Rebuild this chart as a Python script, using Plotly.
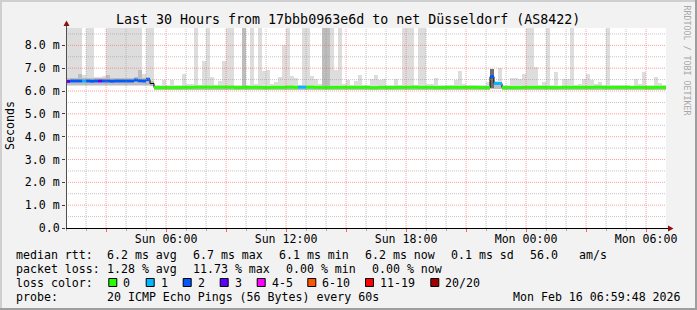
import pandas as pd
import plotly.graph_objects as go

# ---------------- data ----------------
START = "2026-02-15 00:59:48"
END = "2026-02-16 06:59:48"
STEP_MINUTES = 12
T = 9.5  # smoke that runs off the top of the chart (ms)

# top of the light smoke per 12-minute column (ms)
smoke_max = [
    T, T, T, T, 6.70, T, T, 6.60, 6.62, 6.65,
    T, T, T, T, T, T, T, T, T, 6.75,
    T, T, 6.25, 6.25, 6.47, 6.25, 6.47, 6.28, 6.28, 6.73,
    6.32, 6.32, T, 6.25, 7.30, T, 6.61, 6.25, 6.42, 7.30,
    T, T, 6.28, 6.25, T, 6.28, T, 6.32, T, 6.86,
    6.94, 6.32, 6.40, 6.61, 8.00, T, 6.65, 6.58, 6.28, T,
    T, 6.66, 6.51, 6.32, T, T, T, 6.90, T, 6.32,
    6.47, 6.25, 6.42, 6.72, 6.28, 6.28, 6.54, 6.68, 6.47, 6.51,
    6.28, 6.25, 6.51, 6.28, T, T, T, 6.25, T, T,
    6.32, 6.32, 6.57, 6.25, 6.25, 6.25, 6.28, 6.47, 6.87, 6.32,
    6.25, 6.25, 6.25, 6.28, 6.25, 6.40, 6.95, 6.45, 7.02, 6.25,
    6.25, 6.57, 6.57, 6.51, 6.73, T, T, 7.05, 6.28, 6.40,
    T, 6.25, 6.85, 6.22, 6.51, 6.51, T, 6.25, 6.30, 6.51,
    6.75, 6.47, 6.32, 6.38, 6.28, T, 6.28, 6.28, 6.28, 6.28,
    6.25, 6.22, 6.51, 6.32, 6.82, 6.28, 6.28, 6.61, 6.35, 6.28,
]
# bottom of the light smoke (ms)
smoke_min = [
    6.22, 6.22, 6.22, 6.22, 6.22, 6.22, 6.22, 6.22, 6.22, 6.22,
    6.22, 6.22, 6.22, 6.22, 6.22, 6.22, 6.22, 6.22, 6.22, 6.22,
    6.22, 6.20, 6.03, 6.03, 6.03, 6.03, 6.03, 6.03, 6.03, 6.03,
    6.03, 6.03, 6.03, 6.03, 6.03, 6.03, 6.03, 6.03, 6.03, 6.03,
    6.03, 6.03, 6.03, 6.03, 6.03, 6.03, 6.03, 6.03, 6.03, 6.03,
    6.03, 6.03, 6.03, 6.03, 6.03, 6.03, 6.03, 6.03, 6.03, 6.03,
    6.03, 6.03, 6.03, 6.03, 6.03, 6.03, 6.03, 6.03, 6.03, 6.03,
    6.03, 6.03, 6.03, 6.03, 6.03, 6.03, 6.03, 6.03, 6.03, 6.03,
    6.03, 6.03, 6.03, 6.03, 6.03, 6.03, 6.03, 6.03, 6.03, 6.03,
    6.03, 6.03, 6.03, 6.03, 6.03, 6.03, 6.03, 6.03, 6.03, 6.03,
    6.03, 6.03, 6.03, 6.03, 6.03, 6.03, 6.10, 6.10, 6.10, 6.03,
    6.03, 6.03, 6.03, 6.03, 6.03, 6.03, 6.03, 6.03, 6.03, 6.03,
    6.03, 6.03, 6.03, 6.03, 6.03, 6.03, 6.03, 6.03, 6.03, 6.03,
    6.03, 6.03, 6.03, 6.03, 6.03, 6.03, 6.03, 6.03, 6.03, 6.03,
    6.03, 6.03, 6.03, 6.03, 6.03, 6.03, 6.03, 6.03, 6.03, 6.03,
]
# denser smoke band around the median (ms)
mid_lo = [
    6.28, 6.28, 6.28, 6.28, 6.28, 6.28, 6.28, 6.28, 6.28, 6.28,
    6.28, 6.28, 6.28, 6.28, 6.28, 6.28, 6.28, 6.28, 6.28, 6.28,
    6.28, 6.24, 6.06, 6.06, 6.06, 6.06, 6.06, 6.06, 6.06, 6.06,
    6.06, 6.06, 6.06, 6.06, 6.06, 6.06, 6.06, 6.06, 6.06, 6.06,
    6.06, 6.06, 6.06, 6.06, 6.06, 6.06, 6.06, 6.06, 6.06, 6.06,
    6.06, 6.06, 6.06, 6.06, 6.06, 6.06, 6.06, 6.06, 6.06, 6.06,
    6.06, 6.06, 6.06, 6.06, 6.06, 6.06, 6.06, 6.06, 6.06, 6.06,
    6.06, 6.06, 6.06, 6.06, 6.06, 6.06, 6.06, 6.06, 6.06, 6.06,
    6.06, 6.06, 6.06, 6.06, 6.06, 6.06, 6.06, 6.06, 6.06, 6.06,
    6.06, 6.06, 6.06, 6.06, 6.06, 6.06, 6.06, 6.06, 6.06, 6.06,
    6.06, 6.06, 6.06, 6.06, 6.06, 6.06, 6.10, 6.10, 6.10, 6.06,
    6.06, 6.06, 6.06, 6.06, 6.06, 6.06, 6.06, 6.06, 6.06, 6.06,
    6.06, 6.06, 6.06, 6.06, 6.06, 6.06, 6.06, 6.06, 6.06, 6.06,
    6.06, 6.06, 6.06, 6.06, 6.06, 6.06, 6.06, 6.06, 6.06, 6.06,
    6.06, 6.06, 6.06, 6.06, 6.06, 6.06, 6.06, 6.06, 6.06, 6.06,
]
mid_hi = [
    6.56, 6.56, 6.56, 6.75, 6.56, 6.56, 6.56, 6.56, 6.56, 6.56,
    6.72, 6.56, 6.56, 6.56, 6.56, 6.56, 6.56, 6.60, 6.90, 6.56,
    6.60, 6.45, 6.22, 6.22, 6.22, 6.22, 6.22, 6.22, 6.22, 6.22,
    6.22, 6.22, 6.22, 6.22, 6.22, 6.22, 6.22, 6.22, 6.22, 6.22,
    6.22, 6.22, 6.22, 6.22, T, 6.22, 6.22, 6.22, 6.22, 6.22,
    6.22, 6.22, 6.22, 6.22, 6.22, 6.22, 6.22, 6.22, 6.22, 6.22,
    6.22, 6.22, 6.22, 6.22, T, T, 6.22, 6.22, 6.22, 6.22,
    6.22, 6.22, 6.22, 6.22, 6.22, 6.22, 6.22, 6.22, 6.22, 6.22,
    6.22, 6.22, 6.22, 6.22, 6.22, 6.22, 6.22, 6.22, 6.22, 6.22,
    6.22, 6.22, 6.22, 6.22, 6.22, 6.22, 6.22, 6.22, 6.22, 6.22,
    6.22, 6.22, 6.22, 6.22, 6.22, 6.22, 6.12, 6.30, 6.30, 6.22,
    6.22, 6.22, 6.22, 6.22, 6.22, 6.22, 6.22, 6.22, 6.22, 6.22,
    6.22, 6.22, 6.22, 6.22, 6.22, 6.22, 6.22, 6.22, 6.22, 6.22,
    6.22, 6.22, 6.22, 6.22, 6.22, 6.22, 6.22, 6.22, 6.22, 6.22,
    6.22, 6.22, 6.22, 6.22, 6.22, 6.22, 6.22, 6.22, 6.22, 6.22,
]
# the one burst column with widely spread pings
burst_cols = [106]
burst_lo = [6.12]
burst_hi = [6.95]

# median rtt (ms)
median = [
    6.42, 6.44, 6.44, 6.44, 6.44, 6.44, 6.43, 6.44, 6.44, 6.44,
    6.44, 6.43, 6.44, 6.44, 6.44, 6.44, 6.44, 6.48, 6.45, 6.44,
    6.50, 6.33, 6.15, 6.15, 6.15, 6.15, 6.15, 6.15, 6.15, 6.16,
    6.16, 6.16, 6.17, 6.17, 6.17, 6.17, 6.17, 6.17, 6.17, 6.17,
    6.17, 6.17, 6.15, 6.15, 6.16, 6.16, 6.16, 6.16, 6.16, 6.15,
    6.15, 6.16, 6.16, 6.16, 6.16, 6.17, 6.17, 6.16, 6.17, 6.17,
    6.17, 6.17, 6.16, 6.16, 6.15, 6.15, 6.16, 6.16, 6.16, 6.16,
    6.16, 6.16, 6.16, 6.16, 6.16, 6.16, 6.14, 6.14, 6.16, 6.16,
    6.15, 6.15, 6.16, 6.16, 6.16, 6.16, 6.17, 6.17, 6.16, 6.16,
    6.16, 6.16, 6.15, 6.15, 6.15, 6.16, 6.16, 6.16, 6.16, 6.16,
    6.16, 6.16, 6.16, 6.15, 6.15, 6.15, 6.63, 6.33, 6.33, 6.15,
    6.15, 6.15, 6.15, 6.15, 6.16, 6.16, 6.16, 6.16, 6.16, 6.16,
    6.16, 6.15, 6.15, 6.16, 6.16, 6.16, 6.16, 6.16, 6.16, 6.16,
    6.16, 6.16, 6.17, 6.17, 6.16, 6.16, 6.16, 6.16, 6.16, 6.16,
    6.16, 6.16, 6.16, 6.16, 6.16, 6.15, 6.15, 6.16, 6.16, 6.16,
]
# lost pings (of 20) per column; -1 = not coloured
loss = [
    3, 2, 2, 2, 1, 2, 2, 2, 3, 2,
    2, 2, 2, 2, 2, 2, 2, 2, 2, 2,
    2, -1, 0, 0, 0, 0, 0, 0, 0, 0,
    0, 0, 0, 0, 0, 0, 0, 0, 0, 0,
    0, 0, 0, 0, 0, 0, 0, 0, 0, 0,
    0, 0, 0, 0, 0, 0, 0, 0, 1, 1,
    0, 0, 0, 0, 0, 0, 0, 0, 0, 0,
    0, 0, 0, 0, 0, 0, 0, 0, 0, 0,
    0, 0, 0, 0, 0, 0, 0, 0, 0, 0,
    0, 0, 0, 0, 0, 0, 0, 0, 0, 0,
    0, 0, 0, 0, 0, 0, 2, 1, 1, 0,
    0, 0, 0, 0, 0, 0, 0, 0, 0, 0,
    0, 0, 0, 0, 0, 0, 0, 0, 0, 0,
    0, 0, 0, 0, 0, 0, 0, 0, 0, 0,
    0, 0, 0, 0, 0, 0, 0, 0, 0, 0,
]

loss_labels = ["0", "1", "2", "3", "4-5", "6-10", "11-19", "20/20"]
loss_colors = ["#26ff00", "#00b8ff", "#0059ff", "#5e00ff", "#ff00ff", "#ff5500", "#ff0000", "#a10000"]
loss_upper = [0, 1, 2, 3, 5, 10, 19, 20]

y_tick_vals = [0, 1, 2, 3, 4, 5, 6, 7, 8]
y_tick_text = ["0.0", "1.0 m", "2.0 m", "3.0 m", "4.0 m", "5.0 m", "6.0 m", "7.0 m", "8.0 m"]
x_major = ["2026-02-15 03:00", "2026-02-15 06:00", "2026-02-15 09:00", "2026-02-15 12:00",
           "2026-02-15 15:00", "2026-02-15 18:00", "2026-02-15 21:00", "2026-02-16 00:00",
           "2026-02-16 03:00", "2026-02-16 06:00"]
x_major_text = ["", "Sun 06:00", "", "Sun 12:00", "", "Sun 18:00", "", "Mon 00:00", "", "Mon 06:00"]
Y_TOP = 8.76

title = "Last 30 Hours from 17bbb0963e6d to net Düsseldorf (AS8422)"
stats_rtt = ["median rtt:", "6.2 ms avg", "6.7 ms max", "6.1 ms min", "6.2 ms now", "0.1 ms sd", "56.0", "am/s"]
stats_loss = ["packet loss:", "1.28 % avg", "11.73 % max", "0.00 % min", "0.00 % now"]
probe_text = ["probe:", "20 ICMP Echo Pings (56 Bytes) every 60s"]
stamp = "Mon Feb 16 06:59:48 2026"

# ---------------- layout helpers ----------------
W, H = 697, 310
L, R, TOP, BOT = 66, 31, 28, 82
PW, PH = W - L - R, H - TOP - BOT
FONT = "DejaVu Sans Mono"
FS = 11.6


def px(x):
    return (x - L) / PW


def py(y):
    return (H - BOT - y) / PH


n = len(median)
t0 = pd.Timestamp(START)
step = pd.Timedelta(minutes=STEP_MINUTES)
STEP_MS = STEP_MINUTES * 60 * 1000
starts = [t0 + i * step for i in range(n)]
fmt = lambda t: t.strftime("%Y-%m-%d %H:%M:%S")
xs = [fmt(t) for t in starts]
x_end = fmt(starts[-1] + step)

fig = go.Figure()

# smoke
fig.add_trace(go.Bar(x=xs, y=[hi - lo for hi, lo in zip(smoke_max, smoke_min)], base=smoke_min,
                     width=STEP_MS, offset=0, marker=dict(color="#dddddd", line=dict(width=0)),
                     hoverinfo="skip"))
fig.add_trace(go.Bar(x=xs, y=[hi - lo for hi, lo in zip(mid_hi, mid_lo)], base=mid_lo,
                     width=STEP_MS, offset=0, marker=dict(color="#bdbdbd", line=dict(width=0)),
                     hoverinfo="skip"))
fig.add_trace(go.Bar(x=[xs[c] for c in burst_cols], y=[h - l for h, l in zip(burst_hi, burst_lo)],
                     base=burst_lo, width=STEP_MS, offset=0,
                     marker=dict(color="#6e6e6e", line=dict(width=0)), hoverinfo="skip"))

# black stepped median underneath
fig.add_trace(go.Scatter(x=xs + [x_end], y=median + [median[-1]], mode="lines",
                         line=dict(shape="hv", width=1, color="#000000"), hoverinfo="skip"))


def loss_class(v):
    for k, up in enumerate(loss_upper):
        if v <= up:
            return k
    return len(loss_upper) - 1


for k, col in enumerate(loss_colors):
    sx, sy = [], []
    for i in range(n):
        if loss[i] < 0 or loss_class(loss[i]) != k:
            continue
        e = x_end if i == n - 1 else xs[i + 1]
        sx += [xs[i], e, None]
        sy += [median[i], median[i], None]
    if sx:
        fig.add_trace(go.Scatter(x=sx, y=sy, mode="lines", line=dict(width=3, color=col),
                                 hoverinfo="skip"))

shapes = []
# grid on top of the smoke
hours = pd.date_range("2026-02-15 01:00", "2026-02-16 06:00", freq="1h")
major_ts = set(pd.Timestamp(v) for v in x_major)
for h in hours:
    major = h in major_ts
    shapes.append(dict(type="line", xref="x", yref="paper", x0=fmt(h), x1=fmt(h), y0=0, y1=1,
                       layer="above",
                       line=dict(color="rgba(255,95,95,0.6)" if major else "rgba(150,150,150,0.55)",
                                 width=1, dash="1px,1px")))
for k in range(1, 18):
    v = k * 0.5
    major = (k % 2 == 0)
    shapes.append(dict(type="line", xref="paper", yref="y", x0=0, x1=1, y0=v, y1=v, layer="above",
                       line=dict(color="rgba(255,95,95,0.6)" if major else "rgba(150,150,150,0.55)",
                                 width=1, dash="1px,1px")))

# axes lines and arrows
shapes.append(dict(type="line", xref="paper", yref="paper", x0=px(66), x1=px(669), y0=py(228.5),
                   y1=py(228.5), line=dict(color="#000000", width=1)))
shapes.append(dict(type="line", xref="paper", yref="paper", x0=px(66.5), x1=px(66.5), y0=py(228),
                   y1=py(24), line=dict(color="#505050", width=1)))
shapes.append(dict(type="path", xref="paper", yref="paper",
                   path=f"M {px(63.5)} {py(26)} L {px(69.5)} {py(26)} L {px(66.5)} {py(20.5)} Z",
                   fillcolor="#8b1010", line=dict(width=0)))
shapes.append(dict(type="path", xref="paper", yref="paper",
                   path=f"M {px(668)} {py(225.5)} L {px(668)} {py(231.5)} L {px(673.5)} {py(228.5)} Z",
                   fillcolor="#8b1010", line=dict(width=0)))

# frame
shapes.append(dict(type="rect", xref="paper", yref="paper", x0=px(0), x1=px(2), y0=py(0), y1=py(H),
                   fillcolor="#cfcfcf", line=dict(width=0)))
shapes.append(dict(type="rect", xref="paper", yref="paper", x0=px(0), x1=px(W), y0=py(0), y1=py(2),
                   fillcolor="#cfcfcf", line=dict(width=0)))
shapes.append(dict(type="rect", xref="paper", yref="paper", x0=px(W - 2), x1=px(W), y0=py(0), y1=py(H),
                   fillcolor="#9e9e9e", line=dict(width=0)))
shapes.append(dict(type="rect", xref="paper", yref="paper", x0=px(0), x1=px(W), y0=py(H - 2), y1=py(H),
                   fillcolor="#9e9e9e", line=dict(width=0)))

annotations = []


def note(text, x, y, anchor="left", size=FS, color="#000000", angle=0):
    annotations.append(dict(text=text, x=px(x), y=py(y), xref="paper", yref="paper",
                            xanchor=anchor, yanchor="middle", showarrow=False, textangle=angle,
                            borderpad=0, borderwidth=0,
                            font=dict(family=FONT, size=size, color=color)))


note(title, 347.5, 19.5, anchor="center", size=13.3)
note("Seconds", 10, 126, anchor="center", angle=-90)
note("RRDTOOL / TOBI OETIKER", 686.5, 60, anchor="center", size=8.3, color="#a8a8a8", angle=90)

rtt_x = [16, 107.3, 193.3, 279.3, 365, 451, 530, 579.3]
for t, x in zip(stats_rtt, rtt_x):
    note(t, x, 254.5)
loss_x = [16, 107.3, 193.3, 286, 372.3]
for t, x in zip(stats_loss, loss_x):
    note(t, x, 268.5)
note("loss color:", 16, 282.5)
box_x = [108.3, 145.7, 182.7, 219.7, 256.7, 307.3, 365, 430.3]
for lab, col, bx in zip(loss_labels, loss_colors, box_x):
    shapes.append(dict(type="rect", xref="paper", yref="paper", x0=px(bx + 0.5), x1=px(bx + 8.5),
                       y0=py(278.5), y1=py(286.5), fillcolor=col, line=dict(color="#000000", width=1)))
    note(lab, bx + 15, 282.5)
note(probe_text[0], 16, 296.5)
note(probe_text[1], 107.3, 296.5)
note(stamp, 680.5, 296.5, anchor="right")

fig.update_layout(
    width=W, height=H, margin=dict(l=L, r=R, t=TOP, b=BOT, pad=0),
    paper_bgcolor="#f2f2f2", plot_bgcolor="#ffffff",
    barmode="overlay", bargap=0, showlegend=False,
    font=dict(family=FONT, size=FS, color="#000000"),
    shapes=shapes, annotations=annotations,
    xaxis=dict(type="date", range=[START, END], showgrid=False, zeroline=False, showline=False,
               tickmode="array", tickvals=x_major, ticktext=x_major_text,
               ticks="outside", ticklen=3, tickcolor="#ff5f5f", tickwidth=1,
               ticklabelstandoff=-3,
               tickfont=dict(family=FONT, size=FS, color="#000000"),
               minor=dict(tickmode="linear", tick0="2026-02-15 01:00", dtick=3600000,
                          ticks="outside", ticklen=2, tickcolor="#b0b0b0", showgrid=False),
               fixedrange=True),
    yaxis=dict(range=[0, Y_TOP], showgrid=False, zeroline=False, showline=False,
               tickmode="array", tickvals=y_tick_vals, ticktext=y_tick_text,
               ticks="outside", ticklen=3, tickcolor="#404040", tickwidth=1,
               tickfont=dict(family=FONT, size=FS, color="#000000"),
               fixedrange=True),
)

fig.write_html("out.html")
